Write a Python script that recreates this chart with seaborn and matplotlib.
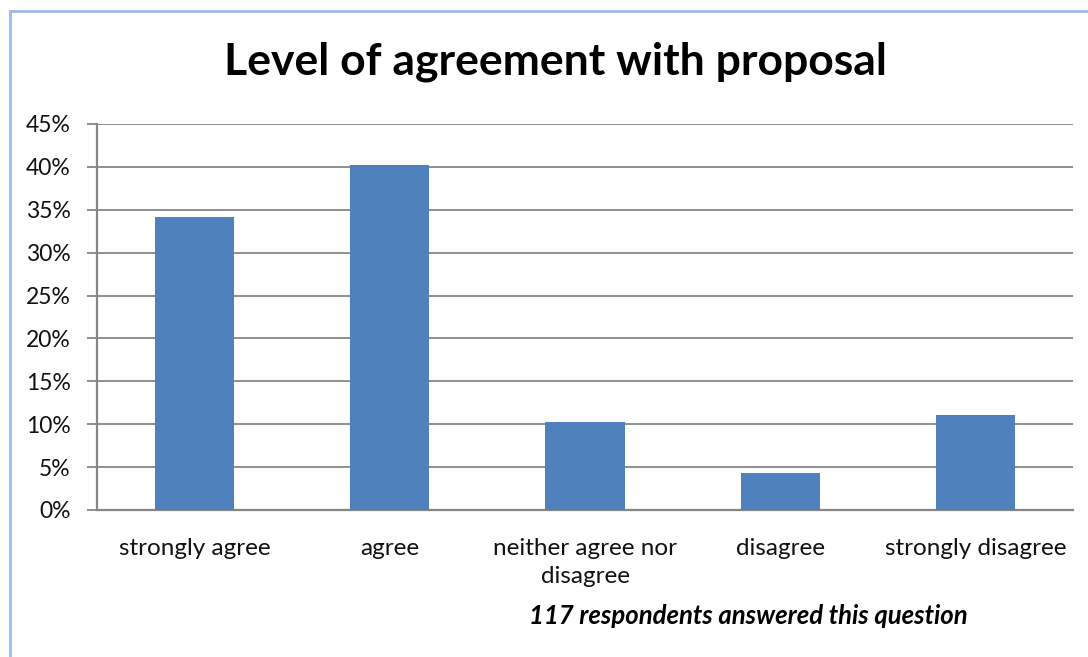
"""
Bar chart: level of agreement with proposal (survey responses).
"""
import matplotlib
matplotlib.use("Agg")
import matplotlib.pyplot as plt
import matplotlib.ticker as mticker
import numpy as np
import pandas as pd
import seaborn as sns
from matplotlib.patches import Rectangle

categories = ["strongly agree", "agree", "neither agree nor\ndisagree",
              "disagree", "strongly disagree"]
share = [0.342, 0.402, 0.103, 0.043, 0.111]

BAR = "#4F81BD"
GRID = "#868686"
TXT = "#111111"

sns.set_style("white")
plt.rcParams["font.family"] = ["Lato", "DejaVu Sans"]

df = pd.DataFrame({"category": categories, "share": share})

fig = plt.figure(figsize=(10.88, 6.57), dpi=100)
ax = fig.add_axes([97 / 1088, 1 - 510 / 657, (1073 - 97) / 1088, (510 - 124) / 657])

sns.barplot(data=df, x="category", y="share", color=BAR, saturation=1,
            width=0.405, linewidth=0, ax=ax, zorder=3)

ax.set_ylim(0, 0.45)
ax.set_xlim(-0.5, len(categories) - 0.5)
ax.yaxis.set_major_locator(mticker.MultipleLocator(0.05))
ax.yaxis.set_major_formatter(mticker.PercentFormatter(1.0, decimals=0))
ax.grid(axis="y", color=GRID, lw=1.3, zorder=0)
ax.set_axisbelow(True)

# category boundaries get the tick marks, labels sit in between
ax.set_xticks(np.arange(len(categories) + 1) - 0.5)
ax.set_xticklabels([])
ax.set_xticks(np.arange(len(categories)), minor=True)
ax.set_xticklabels(categories, minor=True, fontsize=17.5, color=TXT,
                   linespacing=1.4)
ax.tick_params(axis="x", which="major", length=7, width=1.3, color=GRID, direction="out")
ax.tick_params(axis="x", which="minor", length=0, pad=20)
ax.tick_params(axis="y", length=7, width=1.3, color=GRID, labelsize=16.5,
               labelcolor=TXT, pad=12, left=True)

for s in ["top", "right"]:
    ax.spines[s].set_visible(False)
for s in ["left", "bottom"]:
    ax.spines[s].set_color(GRID)
    ax.spines[s].set_linewidth(1.6)

ax.set_xlabel("")
ax.set_ylabel("")

fig.text(555 / 1088, 1 - 62 / 657, "Level of agreement with proposal",
         ha="center", va="center", fontsize=32, fontweight="bold", color="black")
fig.text(748 / 1088, 1 - 616 / 657, "117 respondents answered this question",
         ha="center", va="center", fontsize=18.5, fontweight="bold",
         style="italic", color="black")

# light blue chart-area border
fig.patches.append(Rectangle((10 / 1088, -0.05), 1.1, 1 - 11 / 657 + 0.05,
                             transform=fig.transFigure, fill=False,
                             edgecolor="#9DB9E6", lw=2))

fig.savefig("out.png", dpi=100)
